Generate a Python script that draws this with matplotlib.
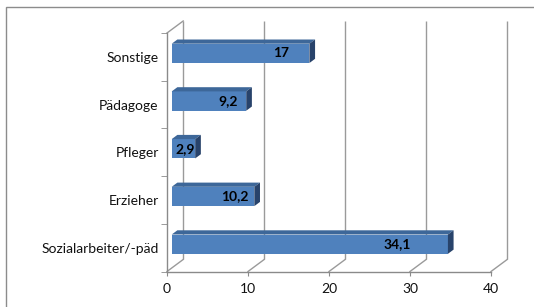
import matplotlib
matplotlib.use("Agg")
import matplotlib.pyplot as plt
from matplotlib.patches import Polygon, Rectangle

# ---- data ----
categories = ["Sozialarbeiter/-päd", "Erzieher", "Pfleger", "Pädagoge", "Sonstige"]
values = [34.1, 10.2, 2.9, 9.2, 17]
value_labels = ["34,1", "10,2", "2,9", "9,2", "17"]
xticks = [0, 10, 20, 30, 40]

W, H = 534, 307
fig = plt.figure(figsize=(W / 100, H / 100), dpi=100)
fig.patch.set_facecolor("white")

# front plane of the plot area in pixels
x0p, x1p = 167, 491
ytop, ybot = 33, 271.5
ax = fig.add_axes([x0p / W, (H - ybot) / H, (x1p - x0p) / W, (ybot - ytop) / H])
ax.set_xlim(0, 40)
ax.set_ylim(-0.5, len(categories) - 0.5)
ax.patch.set_visible(False)

# 3D depth offsets in data units
DX = 2.0      # ~16 px
DY = 0.252    # ~12 px
grid_c = "#9a9a9a"
axis_c = "#8a8a8a"

ylo, yhi = -0.5, len(categories) - 0.5
# back wall gridlines and floor diagonals
for v in xticks:
    ax.plot([v + DX, v + DX], [ylo + DY, yhi + DY], color=grid_c, lw=1.0,
            clip_on=False, zorder=1, solid_capstyle="butt")
    ax.plot([v, v + DX], [ylo, ylo + DY], color=grid_c, lw=1.0,
            clip_on=False, zorder=1)
# left wall top edge
ax.plot([0, DX], [yhi, yhi + DY], color=grid_c, lw=1.0, clip_on=False, zorder=1)

# bars
d0, d1 = 0.29, 0.64
h = 0.405
front_c, top_c, side_c = "#4f81bd", "#3d6799", "#28436b"
for i, (v, lab) in enumerate(zip(values, value_labels)):
    yc = i + d0 * DY
    left = d0 * DX
    ax.barh(yc, v, left=left, height=h, color=front_c, edgecolor="none", zorder=3)
    yt, yb = yc + h / 2, yc - h / 2
    ddx, ddy = (d1 - d0) * DX, (d1 - d0) * DY
    top = Polygon([(left, yt), (left + v, yt), (left + v + ddx, yt + ddy), (left + ddx, yt + ddy)],
                  closed=True, facecolor=top_c, edgecolor="none", zorder=3, clip_on=False)
    side = Polygon([(left + v, yb), (left + v, yt), (left + v + ddx, yt + ddy), (left + v + ddx, yb + ddy)],
                   closed=True, facecolor=side_c, edgecolor="none", zorder=3, clip_on=False)
    ax.add_patch(top)
    ax.add_patch(side)
    ax.text(left + 0.84 * v - 0.8, yc, lab, ha="center", va="center",
            fontsize=10, fontweight="bold", family="Lato", color="black", zorder=5)

# spines
for s in ["top", "right"]:
    ax.spines[s].set_visible(False)
for s in ["left", "bottom"]:
    ax.spines[s].set_color(axis_c)
    ax.spines[s].set_linewidth(1.0)
    ax.spines[s].set_zorder(2)

ax.set_xticks(xticks)
ax.set_xticklabels([str(t) for t in xticks], family="Lato", fontsize=10, color="#111111")
ax.tick_params(axis="x", length=3, color=axis_c, pad=5)

ax.set_yticks(range(len(categories)))
ax.set_yticklabels(categories, family="Lato", fontsize=10, color="#111111")
ax.tick_params(axis="y", which="major", length=0, pad=6)
ax.set_yticks([k - 0.5 for k in range(len(categories) + 1)], minor=True)
ax.tick_params(axis="y", which="minor", length=4, color=axis_c)

# outer chart frame
fig.patches.append(Rectangle((6 / W, -0.1), 2.0, (H - 7.3) / H + 0.1,
                             transform=fig.transFigure, fill=False,
                             edgecolor="#8c8c8c", linewidth=1.0))

fig.savefig("out.png", dpi=100, facecolor="white")
